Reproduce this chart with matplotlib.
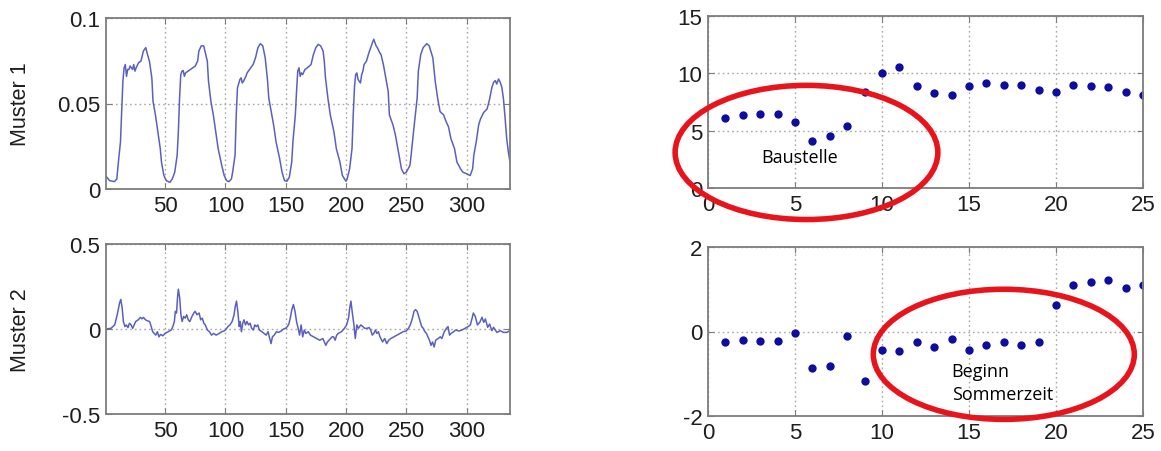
import matplotlib
matplotlib.use("Agg")
import matplotlib.pyplot as plt
from matplotlib.patches import Ellipse

# --- Muster 1: daily load profile (sample index, value) ---
m1_t = [1, 4, 8, 10, 11, 13, 14, 15, 16, 17, 18, 19, 20, 21, 23, 24, 25, 26, 28, 30,
        31, 32, 34, 35, 37, 39, 40, 42, 44, 46, 47, 49, 51, 54, 56, 58, 60, 61, 62, 63,
        64, 65, 66, 67, 69, 71, 73, 75, 77, 78, 80, 82, 83, 85, 86, 88, 90, 92, 94, 97,
        99, 101, 103, 105, 106, 108, 109, 110, 112, 113, 114, 115, 117, 118, 121, 123, 125, 127, 129, 131,
        133, 135, 136, 138, 140, 142, 145, 147, 149, 151, 153, 155, 156, 158, 159, 160, 161, 162, 163, 164,
        166, 168, 171, 173, 175, 177, 179, 181, 182, 183, 185, 187, 190, 192, 195, 197, 200, 201, 203, 205,
        206, 207, 208, 209, 210, 212, 213, 214, 215, 217, 219, 221, 223, 224, 225, 226, 228, 229, 231, 233,
        235, 236, 239, 241, 244, 246, 248, 250, 253, 254, 256, 259, 260, 262, 264, 267, 269, 272, 274, 276,
        278, 281, 283, 285, 287, 290, 292, 295, 297, 300, 303, 305, 306, 308, 310, 311.5, 314.2, 317, 319.1, 321,
        322.4, 323.8, 325, 326.5, 327.9, 329.2, 330.6, 332, 333.3, 334.7, 336]
m1_v = [0.0075, 0.0049, 0.0043, 0.0059, 0.0138, 0.0276, 0.0453, 0.0630, 0.0709, 0.0728,
        0.0659, 0.0699, 0.0699, 0.0719, 0.0699, 0.0728, 0.0689, 0.0709, 0.0738, 0.0748,
        0.0778, 0.0807, 0.0827, 0.0797, 0.0748, 0.0650, 0.0512, 0.0433, 0.0335, 0.0236,
        0.0157, 0.0079, 0.0049, 0.0039, 0.0059, 0.0098, 0.0197, 0.0335, 0.0531, 0.0669,
        0.0689, 0.0693, 0.0659, 0.0679, 0.0689, 0.0699, 0.0709, 0.0719, 0.0748, 0.0807,
        0.0837, 0.0837, 0.0807, 0.0748, 0.0630, 0.0512, 0.0433, 0.0335, 0.0236, 0.0138,
        0.0079, 0.0049, 0.0043, 0.0059, 0.0098, 0.0197, 0.0433, 0.0591, 0.0640, 0.0650,
        0.0620, 0.0630, 0.0659, 0.0679, 0.0709, 0.0728, 0.0768, 0.0827, 0.0850, 0.0837,
        0.0768, 0.0630, 0.0531, 0.0453, 0.0374, 0.0276, 0.0177, 0.0098, 0.0049, 0.0045,
        0.0069, 0.0157, 0.0276, 0.0433, 0.0571, 0.0689, 0.0709, 0.0659, 0.0679, 0.0669,
        0.0699, 0.0709, 0.0728, 0.0787, 0.0827, 0.0846, 0.0837, 0.0807, 0.0748, 0.0650,
        0.0531, 0.0433, 0.0335, 0.0236, 0.0157, 0.0079, 0.0045, 0.0059, 0.0118, 0.0236,
        0.0433, 0.0591, 0.0669, 0.0679, 0.0640, 0.0620, 0.0669, 0.0689, 0.0728, 0.0748,
        0.0797, 0.0837, 0.0876, 0.0856, 0.0837, 0.0827, 0.0797, 0.0787, 0.0728, 0.0650,
        0.0571, 0.0433, 0.0374, 0.0315, 0.0197, 0.0118, 0.0089, 0.0098, 0.0138, 0.0197,
        0.0335, 0.0531, 0.0689, 0.0787, 0.0827, 0.0850, 0.0837, 0.0768, 0.0630, 0.0531,
        0.0453, 0.0433, 0.0394, 0.0364, 0.0295, 0.0236, 0.0157, 0.0118, 0.0098, 0.0089,
        0.0079, 0.0118, 0.0197, 0.0276, 0.0374, 0.0409, 0.0448, 0.0468, 0.0526, 0.0595,
        0.0624, 0.0634, 0.0614, 0.0643, 0.0624, 0.0595, 0.0526, 0.0409, 0.0292, 0.0214,
        0.0156]

# --- Muster 2: residual pattern (sample index, value) ---
m2_t = [1.3, 5.1, 8.2, 10.3, 12.3, 13.3, 14.4, 15.4, 16.7, 17.9, 19.2, 20.5, 21.8, 23.1, 24.4,
        25.6, 27.7, 29.5, 30.8, 32.1, 33.8, 35.4, 37.2, 38.5, 39.7, 41.0, 42.3, 43.6, 44.9, 46.2,
        48.2, 50.0, 52.6, 55.1, 56.4, 57.7, 58.5, 59.5, 60.3, 61.0, 62.1, 63.1, 64.1, 65.4, 66.7,
        67.9, 69.2, 70.5, 72.3, 73.8, 74.9, 76.4, 78.2, 79.5, 80.8, 82.1, 83.3, 85.1, 86.7, 88.5,
        90.3, 92.3, 94.9, 96.9, 98.7, 100.0, 102.1, 103.8, 105.6, 107.2, 108.2, 109.2, 110.3, 111.5, 112.3,
        113.3, 114.4, 115.4, 116.7, 117.9, 119.2, 120.5, 121.8, 123.1, 124.4, 125.6, 126.9, 128.2, 130.3, 132.1,
        133.8, 135.4, 136.4, 137.9, 139.0, 140.5, 142.3, 144.1, 146.2, 148.2, 150.0, 151.3, 152.6, 153.8, 155.1,
        156.4, 157.7, 159.0, 160.3, 161.5, 162.8, 164.1, 165.4, 166.7, 168.7, 170.5, 173.1, 175.6, 178.2, 180.8,
        183.3, 184.6, 185.9, 187.2, 188.5, 189.7, 191.0, 192.3, 193.6, 196.2, 198.7, 200.5, 202.1, 203.1, 204.1,
        205.1, 206.4, 207.7, 209.0, 210.3, 212.3, 214.1, 215.4, 217.4, 219.2, 220.5, 221.8, 223.1, 224.4, 225.6,
        226.9, 228.2, 230.3, 232.1, 233.8, 235.4, 237.2, 239.7, 242.3, 244.9, 247.4, 250.0, 251.8, 253.3, 255.1,
        256.4, 257.7, 259.0, 260.3, 261.5, 262.8, 264.1, 265.4, 266.7, 267.9, 269.2, 270.5, 271.8, 273.1, 274.4,
        276.4, 278.2, 279.5, 281.5, 283.3, 284.6, 285.9, 287.2, 289.2, 291.0, 293.6, 296.2, 298.7, 301.3, 303.1,
        304.6, 305.6, 307.2, 309.0, 311.0, 312.8, 314.2, 315.6, 317.5, 319.1, 321.0, 322.4, 325.1, 327.9, 330.6,
        333.3, 336.0]
m2_v = [0.000, 0.004, 0.024, 0.084, 0.154, 0.174, 0.124, 0.044, 0.014, 0.024, 0.008, 0.034, 0.024, 0.004, 0.024,
        0.044, 0.054, 0.068, 0.060, 0.068, 0.054, 0.048, 0.044, 0.014, -0.016, -0.026, -0.036, -0.016, -0.046, -0.032,
        -0.040, -0.026, -0.016, -0.006, 0.014, 0.044, 0.104, 0.094, 0.184, 0.234, 0.184, 0.084, 0.044, 0.074, 0.064,
        0.084, 0.054, 0.044, 0.074, 0.094, 0.104, 0.084, 0.094, 0.054, 0.064, 0.034, 0.024, -0.006, -0.016, -0.036,
        -0.026, -0.036, -0.026, -0.016, -0.012, -0.006, 0.014, 0.024, 0.044, 0.084, 0.134, 0.164, 0.104, 0.014, 0.044,
        -0.016, 0.034, 0.054, 0.024, 0.044, 0.024, 0.034, 0.004, -0.006, 0.024, 0.014, 0.024, -0.006, -0.016, -0.026,
        -0.036, -0.016, -0.046, -0.086, -0.046, -0.036, -0.016, -0.020, -0.012, 0.000, 0.004, 0.014, 0.028, 0.064, 0.114,
        0.144, 0.104, 0.044, 0.004, -0.036, 0.024, -0.046, -0.006, -0.026, -0.016, -0.036, -0.046, -0.056, -0.066, -0.056,
        -0.096, -0.076, -0.066, -0.056, -0.046, -0.046, -0.066, -0.036, -0.026, -0.016, 0.004, 0.024, 0.064, 0.124, 0.164,
        0.104, 0.034, -0.056, 0.024, 0.004, 0.024, 0.014, 0.004, 0.004, 0.008, -0.006, -0.036, -0.026, -0.006, -0.026,
        -0.016, -0.046, -0.076, -0.056, -0.086, -0.066, -0.056, -0.046, -0.036, -0.026, -0.016, -0.012, 0.004, 0.024, 0.064,
        0.104, 0.114, 0.104, 0.074, 0.044, 0.014, 0.004, -0.016, -0.026, -0.046, -0.066, -0.096, -0.076, -0.106, -0.066,
        -0.056, -0.046, -0.056, -0.016, 0.004, 0.014, -0.036, -0.026, -0.016, -0.006, -0.012, -0.006, 0.004, 0.014, 0.024,
        0.064, 0.094, 0.074, 0.024, 0.040, 0.069, 0.039, 0.059, 0.010, 0.029, -0.010, 0.010, -0.020, -0.010, -0.020,
        -0.020, -0.010]

# --- Weekly coefficients for both patterns ---
weeks = list(range(1, 26))
coef1 = [6.13, 6.34, 6.43, 6.43, 5.77, 4.11, 4.55, 5.45, 8.36, 10.0, 10.54, 8.9, 8.27, 8.13, 8.9,
         9.2, 8.99, 8.99, 8.57, 8.33, 8.99, 8.9, 8.81, 8.36, 8.15]
coef2 = [-0.24, -0.20, -0.23, -0.23, -0.04, -0.87, -0.81, -0.10, -1.16, -0.43, -0.46, -0.25, -0.37, -0.17, -0.43,
         -0.31, -0.25, -0.33, -0.25, 0.62, 1.11, 1.17, 1.23, 1.04, 1.09]

ylabels = ["Muster 1", "Muster 2"]
note1 = "Baustelle"
note2 = "Beginn\nSommerzeit"

plt.rcParams["font.family"] = ["Liberation Sans", "DejaVu Sans"]
plt.rcParams["axes.unicode_minus"] = False

W, H = 1161, 452
fig = plt.figure(figsize=(W / 100, H / 100), dpi=100)


def box(l, t, r, b):
    return [l / W, 1 - b / H, (r - l) / W, (b - t) / H]


LINE = "#5b60c0"
DOT = "#0d0da0"
FRAME = "#7d7d7d"
GRID = "#a8a8a8"
TXT = "#1e1e1e"


def style(ax):
    for s in ax.spines.values():
        s.set_color(FRAME)
        s.set_linewidth(1.3)
    ax.tick_params(direction="in", length=4, width=0.8, color=FRAME,
                   labelsize=16, labelcolor=TXT, pad=4,
                   top=True, right=True)
    ax.grid(True, linestyle=(0, (1.2, 2.2)), color=GRID, linewidth=1.0)
    ax.set_axisbelow(True)


ax1 = fig.add_axes(box(106, 19, 510, 190))
ax1.plot(m1_t, m1_v, color=LINE, lw=1.1)
ax1.set_xlim(1, 336)
ax1.set_ylim(0, 0.1)
ax1.set_xticks([50, 100, 150, 200, 250, 300])
ax1.set_yticks([0, 0.05, 0.1])
ax1.set_yticklabels(["0", "0.05", "0.1"])
style(ax1)

ax2 = fig.add_axes(box(106, 245, 510, 415))
ax2.plot(m2_t, m2_v, color=LINE, lw=1.1)
ax2.set_xlim(1, 336)
ax2.set_ylim(-0.5, 0.5)
ax2.set_xticks([50, 100, 150, 200, 250, 300])
ax2.set_yticks([-0.5, 0, 0.5])
ax2.set_yticklabels(["-0.5", "0", "0.5"])
style(ax2)

ax3 = fig.add_axes(box(708, 17, 1143, 189))
ax3.plot(weeks, coef1, "o", color=DOT, ms=6, mec="none")
ax3.set_xlim(0, 25)
ax3.set_ylim(0, 15)
ax3.set_xticks(range(0, 26, 5))
ax3.set_yticks([0, 5, 10, 15])
style(ax3)

ax4 = fig.add_axes(box(708, 248, 1143, 417))
ax4.plot(weeks, coef2, "o", color=DOT, ms=6, mec="none")
ax4.set_xlim(0, 25)
ax4.set_ylim(-2, 2)
ax4.set_xticks(range(0, 26, 5))
ax4.set_yticks([-2, 0, 2])
style(ax4)

for ax, lab in zip((ax1, ax2), ylabels):
    pos = ax.get_position()
    fig.text(20 / W, pos.y0 + pos.height / 2, lab, rotation=90,
             ha="center", va="center", fontsize=15.5, color=TXT)

# Highlight ellipses and notes
e1 = Ellipse((5.66, 3.1), 15.1, 11.7, fill=False, edgecolor="#e8141c",
             lw=4, clip_on=False, zorder=10)
ax3.add_patch(e1)
ax3.text(5.25, 2.7, note1, ha="center", va="center", fontsize=13,
         family="Open Sans", color="black", zorder=11, clip_on=False)

e2 = Ellipse((17.0, -0.54), 15.0, 3.08, fill=False, edgecolor="#e8141c",
             lw=4, clip_on=False, zorder=10)
ax4.add_patch(e2)
ax4.text(14.0, -1.2, note2, ha="left", va="center", fontsize=13,
         family="Open Sans", color="black", linespacing=1.35, zorder=11,
         clip_on=False)

fig.savefig("out.png", dpi=100)
